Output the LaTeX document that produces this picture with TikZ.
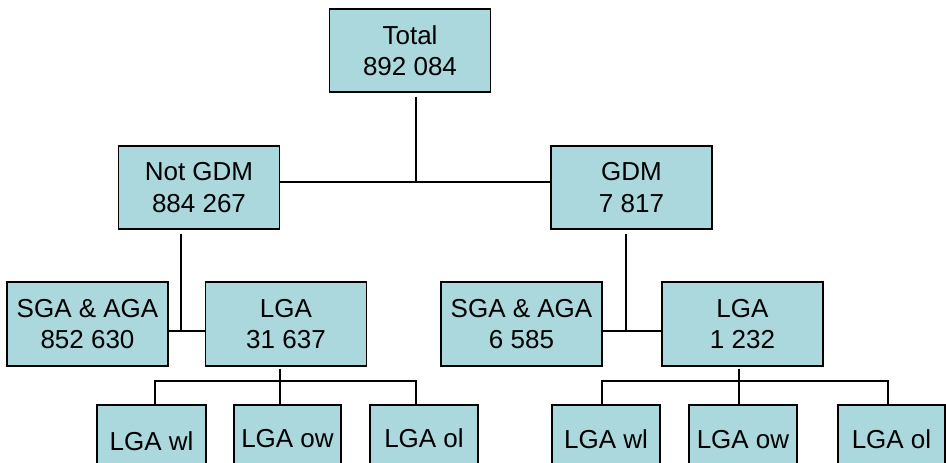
\documentclass[tikz,border=0pt]{standalone}
\usepackage{fontspec}
\setmainfont{Liberation Sans}
\definecolor{boxfill}{RGB}{170,216,220}
\begin{document}
\begin{tikzpicture}[x=1pt,y=-1pt,
  orgbox/.style={draw=black,line width=1.3pt,fill=boxfill,inner sep=0pt,align=center,
    font=\fontsize{26}{31.5}\selectfont},
  big/.style={orgbox,minimum width=161pt,minimum height=83pt},
  small/.style={orgbox,minimum width=108pt,minimum height=72pt},
  conn/.style={line width=1.2pt,draw=black}]
\useasboundingbox (0,0) rectangle (946,463);
% nodes
\node[big] (total) at (410,50.5) {Total\\892 084};
\node[big] (notgdm) at (199,187.5) {Not GDM\\884 267};
\node[big] (gdm) at (631.5,187.5) {GDM\\7 817};
\node[big,minimum height=84pt] (sgaL) at (87.5,324) {SGA \& AGA\\852 630};
\node[big,minimum height=84pt] (lgaL) at (286,324) {LGA\\31 637};
\node[big,minimum height=84pt] (sgaR) at (521.5,324) {SGA \& AGA\\6 585};
\node[big,minimum height=84pt] (lgaR) at (742.5,324) {LGA\\1 232};
\node[small,minimum width=109pt] (wlL) at (151.5,441) {LGA wl};
\node[small,minimum width=107pt] (owL) at (287.5,441) {\raisebox{5pt}{LGA ow}};
\node[small] (olL) at (424,441) {\raisebox{5pt}{LGA ol}};
\node[small] (wlR) at (606,441) {\raisebox{3pt}{LGA wl}};
\node[small] (owR) at (743,441) {\raisebox{3pt}{LGA ow}};
\node[small,minimum width=107pt] (olR) at (891.5,441) {\raisebox{3pt}{LGA ol}};
% junction coordinates
\coordinate (j0) at (416,182);
\coordinate (j1) at (181,331);
\coordinate (j2) at (626,331);
\coordinate (bL) at (280,381);
\coordinate (bR) at (739,381);
\coordinate (bLl) at (155,381);
\coordinate (bLr) at (416,381);
\coordinate (bRl) at (602,381);
\coordinate (bRr) at (888,381);
% connectors
\draw[conn,shorten <=4pt] (total.south -| j0) -- (j0);
\draw[conn] (notgdm.east |- j0) -- (gdm.west |- j0);
\draw[conn,shorten <=4pt] (notgdm.south -| j1) -- (j1);
\draw[conn] (sgaL.east |- j1) -- (lgaL.west |- j1);
\draw[conn,shorten <=4pt] (gdm.south -| j2) -- (j2);
\draw[conn] (sgaR.east |- j2) -- (lgaR.west |- j2);
\draw[conn,shorten <=2pt] (lgaL.south -| bL) -- (owL.north -| bL);
\draw[conn] (wlL.north -| bLl) -- (bLl) -- (bLr) -- (olL.north -| bLr);
\draw[conn,shorten <=2pt] (lgaR.south -| bR) -- (owR.north -| bR);
\draw[conn] (wlR.north -| bRl) -- (bRl) -- (bRr) -- (olR.north -| bRr);
\end{tikzpicture}
\end{document}
